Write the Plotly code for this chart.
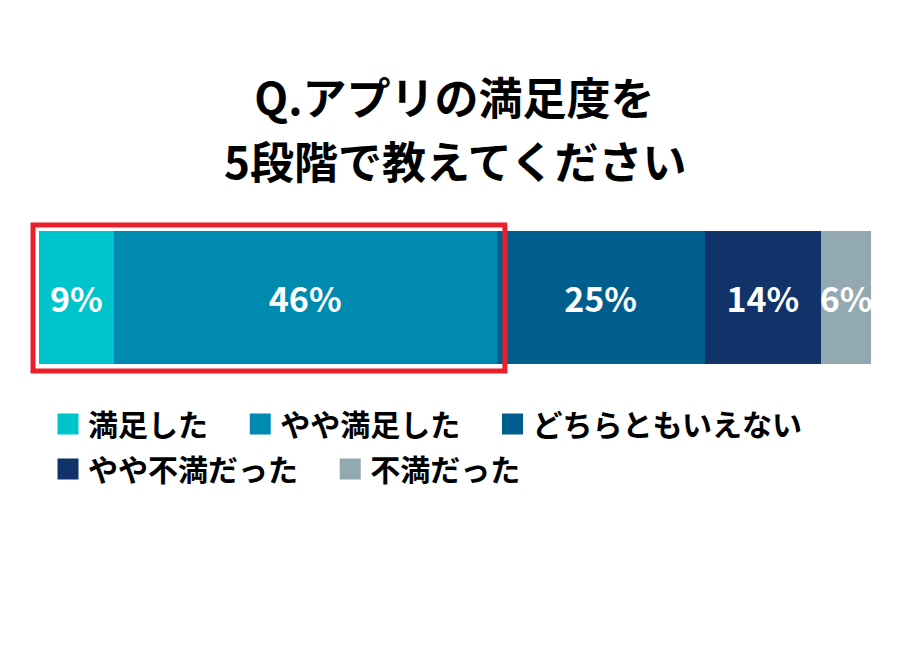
import plotly.graph_objects as go

# survey result: satisfaction with the app (5 levels)
categories = ["満足した", "やや満足した", "どちらともいえない", "やや不満だった", "不満だった"]
shares = [9, 46, 25, 14, 6]
colors = ["#00C4CC", "#008AB0", "#005E8E", "#12326A", "#92A9B1"]
legend_rows = ["legend", "legend", "legend", "legend2", "legend2"]

title_line1 = "Q.アプリの満足度を"
title_line2 = "5段階で教えてください"
font_jp = "Noto Sans CJK JP"

fig = go.Figure()

for name, val, col in zip(categories, shares, colors):
    fig.add_trace(go.Bar(
        x=[val], y=[0], orientation="h", name=name,
        marker=dict(color=col, line=dict(width=0)),
        width=1,
        text=["{}%".format(val)], textposition="inside",
        insidetextanchor="middle", textangle=0,
        textfont=dict(family=font_jp, size=34, color="white", weight="bold"),
        showlegend=False, hoverinfo="skip",
    ))

# legend entries with big square swatches (two rows -> two legends)
for name, col, lg in zip(categories, colors, legend_rows):
    fig.add_trace(go.Scatter(
        x=[None], y=[None], mode="markers", name=name + "\u00a0" * 4,
        marker=dict(symbol="square", size=20, color=col, line=dict(color=col, width=5)),
        showlegend=True, legend=lg,
    ))

# red frame around the two "satisfied" segments
fig.add_shape(
    type="rect", xref="paper", yref="paper",
    x0=-0.72 / 100, x1=(sum(shares[:2]) + 1.0) / 100, y0=-0.053, y1=1.045,
    line=dict(color="#E8202A", width=5), fillcolor="rgba(0,0,0,0)",
    layer="above",
)

# second title line
fig.add_annotation(
    text=title_line2, xref="paper", yref="paper",
    x=0.5, xanchor="center", y=1.534, yanchor="middle",
    showarrow=False,
    font=dict(family=font_jp, size=44, color="black", weight="bold"),
)

legend_style = dict(
    orientation="h", xref="container", yref="container",
    x=40 / 900, xanchor="left", yanchor="top",
    font=dict(family=font_jp, size=30, color="black", weight="bold"),
    bgcolor="rgba(0,0,0,0)", traceorder="normal",
)

fig.update_layout(
    width=900, height=650,
    barmode="stack",
    paper_bgcolor="white", plot_bgcolor="white",
    margin=dict(l=31, r=37, t=223, b=294, pad=0),
    uniformtext=dict(minsize=30, mode="show"),
    title=dict(
        text=title_line1, x=0.496, xanchor="center",
        y=1 - 92 / 650, yanchor="middle", yref="container",
        font=dict(family=font_jp, size=44, color="black", weight="bold"),
    ),
    xaxis=dict(range=[0, 100], visible=False, fixedrange=True),
    yaxis=dict(range=[-0.5, 0.5], visible=False, fixedrange=True),
    legend=dict(legend_style, y=1 - 390 / 650),
    legend2=dict(legend_style, y=1 - 435 / 650),
    showlegend=True,
)

fig.write_html("out.html")
